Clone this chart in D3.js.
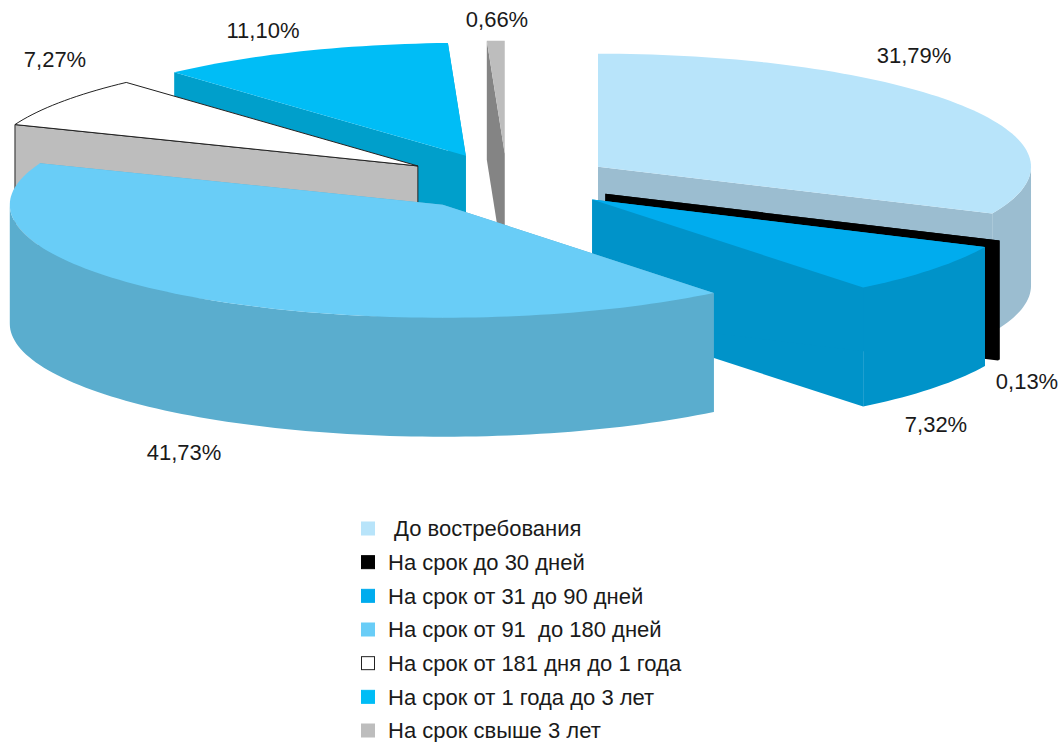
<!DOCTYPE html>
<html><head><meta charset="UTF-8">
<title>Pie</title>
<script src="https://cdn.jsdelivr.net/npm/d3@7"></script>
<style>
  html, body { margin: 0; padding: 0; background: #fff; }
  svg { display: block; }
  text { font-family: "Liberation Sans", Arial, sans-serif; fill: #1a1a1a; white-space: pre; }
</style>
</head>
<body>
<svg width="1061" height="742"></svg>
<script>
var categories = [
  " До востребования",
  "На срок до 30 дней",
  "На срок от 31 до 90 дней",
  "На срок от 91  до 180 дней",
  "На срок от 181 дня до 1 года",
  "На срок от 1 года до 3 лет",
  "На срок свыше 3 лет"
];
var shares = [31.79, 0.13, 7.32, 41.73, 7.27, 11.10, 0.66];
var topColors  = ["#b8e4fa", "#000000", "#00acee", "#69cdf7", "#ffffff", "#00bdf6", "#bdbdbd"];
var wallColors = ["#9bbdd0", "#000000", "#0093c9", "#5aadce", "#bdbdbd", "#009fcb", "#848484"];

//begin: layout conf.
var cx = 507, cy = 182,
    rx = 433, ry = 113,
    depth = 119,
    explode = 0.25;
// back slices first
var drawOrder = [6, 5, 4, 0, 1, 2, 3];
// label anchors (middle of the text), same order as the slices
var labelX = [914, 1027, 936, 184, 55, 263, 497],
    labelY = [55, 381, 424, 452, 59, 30, 19];
//end: layout conf.

var svg = d3.select("svg");
var pct = d3.formatLocale({decimal: ",", thousands: " ", grouping: [3], currency: ["", ""]}).format(".2f");
var slices = d3.pie().sort(null).value(function(d){ return d; })(shares);
var line = d3.line();

function ellipsePoint(o, a, dy) {
  return [o[0] + rx*Math.sin(a), o[1] - ry*Math.cos(a) + (dy || 0)];
}

function arcPoints(o, a0, a1, dy) {
  var n = Math.max(2, Math.ceil((a1 - a0)*40));
  return d3.range(n + 1).map(function(i){
    return ellipsePoint(o, a0 + (a1 - a0)*i/n, dy);
  });
}

function apexOf(s) {
  var mid = (s.startAngle + s.endAngle)/2;
  return [cx + explode*rx*Math.sin(mid), cy - explode*ry*Math.cos(mid)];
}

function cutWall(o, a) {
  var p = ellipsePoint(o, a);
  return line([o, p, [p[0], p[1] + depth], [o[0], o[1] + depth]]) + "Z";
}

drawOrder.forEach(function(i){
  var s = slices[i], o = apexOf(s);
  var g = svg.append("g").attr("class", "slice");
  var outlined = i === 4;

  // end wall is the far one, it gets no outline
  g.append("path")
    .attr("d", cutWall(o, s.endAngle))
    .attr("fill", wallColors[i]);
  g.append("path")
    .attr("d", cutWall(o, s.startAngle))
    .attr("fill", wallColors[i])
    .attr("stroke", outlined ? "#222" : "none")
    .attr("stroke-width", outlined ? 1 : 0);

  // only the front half of the rim can be seen
  var a0 = Math.max(s.startAngle, Math.PI/2),
      a1 = Math.min(s.endAngle, 3*Math.PI/2);
  if (a1 > a0) {
    g.append("path")
      .attr("d", line(arcPoints(o, a0, a1).concat(arcPoints(o, a0, a1, depth).reverse())) + "Z")
      .attr("fill", wallColors[i]);
  }

  g.append("path")
    .attr("d", line([o].concat(arcPoints(o, s.startAngle, s.endAngle))) + "Z")
    .attr("fill", topColors[i])
    .attr("stroke", outlined ? "#222" : "none")
    .attr("stroke-width", outlined ? 1 : 0);
});

svg.selectAll(".pct")
  .data(shares)
  .enter().append("text")
    .attr("class", "pct")
    .attr("x", function(d, i){ return labelX[i]; })
    .attr("y", function(d, i){ return labelY[i]; })
    .attr("dy", "0.35em")
    .attr("text-anchor", "middle")
    .attr("font-size", 22)
    .text(function(d){ return pct(d) + "%"; });

var rowY = d3.scalePoint().domain(categories).range([528.5, 730.5]);
var legend = svg.selectAll(".legend")
  .data(categories)
  .enter().append("g")
    .attr("class", "legend")
    .attr("transform", function(d){ return "translate(361," + rowY(d) + ")"; });
legend.append("rect")
  .attr("x", 0.5).attr("y", -6.5)
  .attr("width", 13).attr("height", 13)
  .attr("fill", function(d, i){ return topColors[i]; })
  .attr("stroke", function(d, i){ return i === 4 ? "#222" : topColors[i]; });
legend.append("text")
  .attr("x", 27)
  .attr("dy", "0.35em")
  .attr("font-size", 22)
  .text(function(d){ return d; });
</script>
</body></html>
